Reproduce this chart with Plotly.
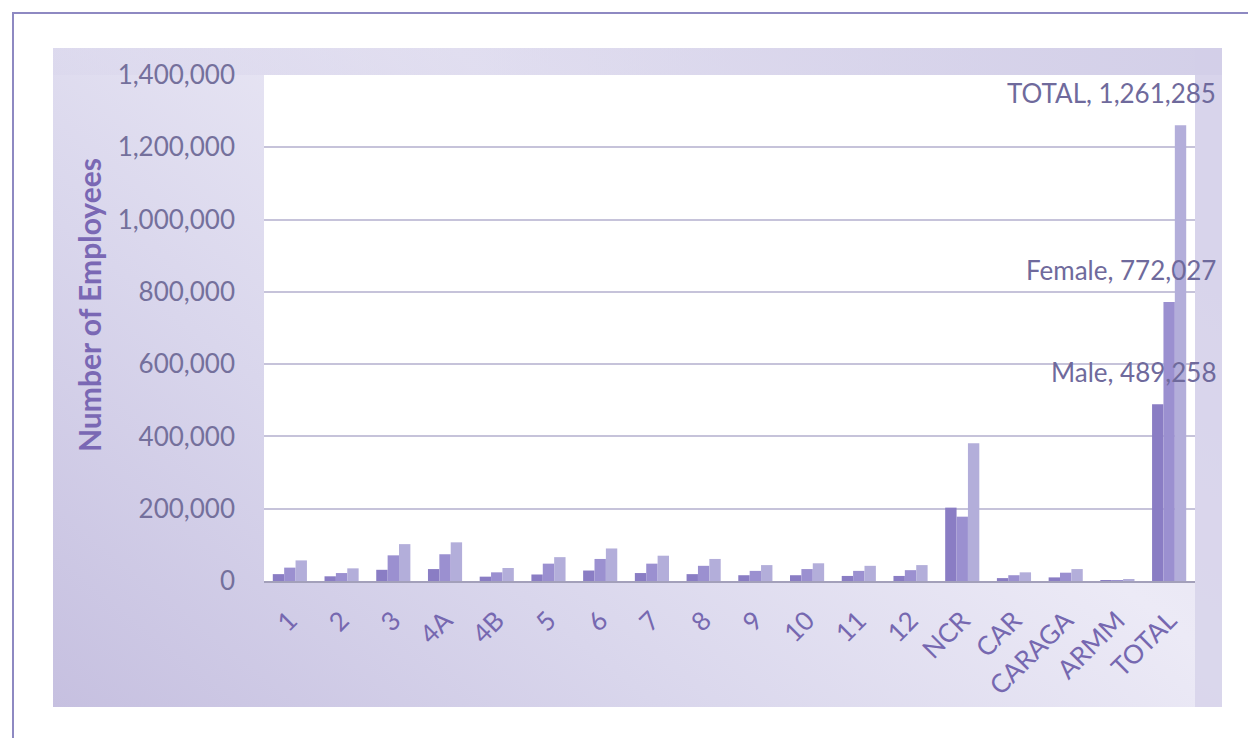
import base64
import plotly.graph_objects as go

categories = ["1", "2", "3", "4A", "4B", "5", "6", "7", "8", "9", "10", "11", "12",
              "NCR", "CAR", "CARAGA", "ARMM", "TOTAL"]
male = [19000, 13000, 31000, 33000, 12000, 18000, 29000, 22000, 19000, 16000,
        16000, 14000, 14000, 203000, 8000, 10000, 2000, 489258]
female = [37000, 22000, 71000, 74000, 24000, 48000, 61000, 48000, 42000, 28000,
          33000, 28000, 30000, 178000, 16000, 23000, 2500, 772027]
total = [57000, 35000, 102000, 107000, 36000, 66000, 90000, 70000, 61000, 44000,
         49000, 42000, 44000, 381000, 24000, 33000, 4500, 1261285]
series_names = ["Male", "Female", "TOTAL"]
y_ticks = [0, 200000, 400000, 600000, 800000, 1000000, 1200000, 1400000]

W, H = 1248, 738
L, R, T, B = 264, 53, 75, 157
PW, PH = W - L - R, H - T - B


def px(x):
    return (x - L) / PW


def py(y):
    return (H - B - y) / PH


FONT = "Lato"

fig = go.Figure()
colors = ["#8A7DC4", "#9B90D0", "#B3AEDA"]
for name, vals, col in zip(series_names, [male, female, total], colors):
    fig.add_trace(go.Bar(x=categories, y=vals, name=name, marker_color=col,
                         marker_line_width=0))

# background gradient panel (svg data uri)
svg = '''<svg xmlns="http://www.w3.org/2000/svg" width="1169" height="659" viewBox="0 0 1169 659" preserveAspectRatio="none">
<defs>
<linearGradient id="g" x1="0" y1="1" x2="1" y2="0.3">
<stop offset="0" stop-color="#C6C0E0"/>
<stop offset="0.35" stop-color="#D9D6EC"/>
<stop offset="0.7" stop-color="#ECEAF6"/>
<stop offset="1" stop-color="#E4E1F1"/>
</linearGradient>
<linearGradient id="t" x1="0" y1="0" x2="1" y2="0">
<stop offset="0" stop-color="#D4D0E9" stop-opacity="0.3"/>
<stop offset="1" stop-color="#CFCBE6" stop-opacity="1"/>
</linearGradient>
</defs>
<rect x="0" y="0" width="1169" height="659" fill="url(#g)"/>
<rect x="0" y="0" width="1169" height="27" fill="url(#t)" opacity="0.8"/>
<rect x="1142" y="0" width="27" height="659" fill="#D3CFE8" opacity="0.7"/>
</svg>'''
src = "data:image/svg+xml;base64," + base64.b64encode(svg.encode()).decode()
fig.add_layout_image(dict(source=src, xref="paper", yref="paper",
                          x=px(53), y=py(48), sizex=px(1222) - px(53),
                          sizey=py(48) - py(707), xanchor="left", yanchor="top",
                          sizing="stretch", layer="below"))

# white plot area
fig.add_shape(type="rect", xref="paper", yref="paper", x0=0, x1=1, y0=0, y1=1,
              fillcolor="white", line_width=0, layer="below")
# outer frame
fig.add_shape(type="path", xref="paper", yref="paper",
              path=f"M {px(13)},{py(760)} L {px(13)},{py(13)} L {px(1260)},{py(13)}",
              line=dict(color="#8E89C2", width=2), layer="below")

label_color = "#6F6A9C"
for name, vals in zip(["TOTAL", "Female", "Male"], [total, female, male]):
    v = vals[-1]
    fig.add_annotation(x=1, xref="paper", y=v, yref="y", xanchor="right",
                       yanchor="middle", xshift=23, yshift=32,
                       text=f"{name}, {v:,}", showarrow=False,
                       font=dict(family=FONT, size=26, color=label_color))

fig.add_annotation(x=px(89), y=py(305), xref="paper", yref="paper",
                   text="<b>Number of Employees</b>", textangle=-90, showarrow=False,
                   xanchor="center", yanchor="middle",
                   font=dict(family=FONT, size=30, color="#7A68B4"))

fig.update_layout(
    width=W, height=H,
    margin=dict(l=L, r=R, t=T, b=B, pad=0),
    paper_bgcolor="white", plot_bgcolor="white",
    barmode="group", bargap=0.34, bargroupgap=0,
    showlegend=False,
    font=dict(family=FONT),
)
fig.update_xaxes(tickangle=-45, tickfont=dict(family=FONT, size=26, color="#7668B0"),
                 showline=True, linecolor="#A3A0BA", linewidth=2,
                 ticks="", ticklabelstandoff=12, showgrid=False)
fig.update_yaxes(range=[0, 1400000], tickvals=y_ticks, tickformat=",",
                 tickfont=dict(family=FONT, size=26, color="#74709C"),
                 showgrid=True, gridcolor="#C6C3DA", gridwidth=1.5,
                 zeroline=False, showline=False, ticks="", ticklabelstandoff=28)

fig.write_html("out.html")
